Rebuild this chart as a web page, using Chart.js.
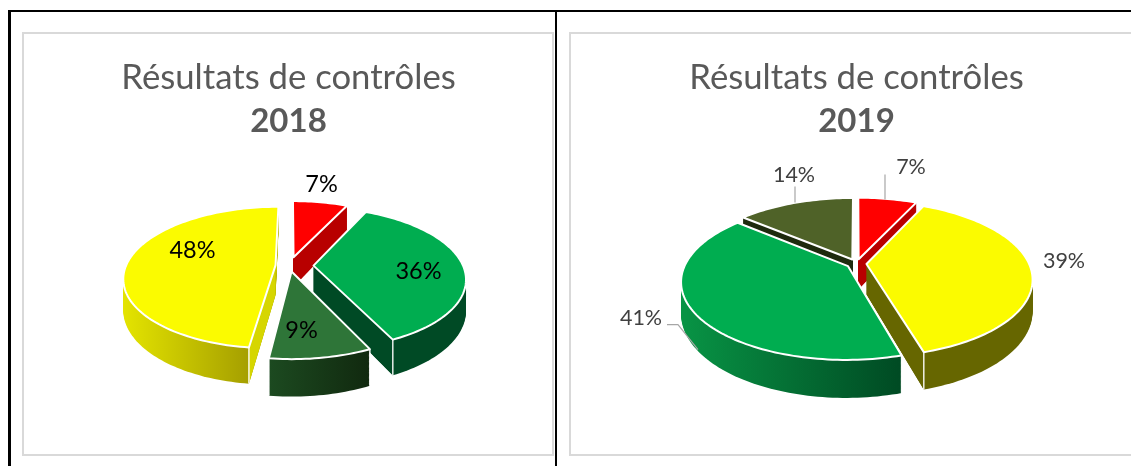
<!DOCTYPE html>
<html>
<head>
<meta charset="utf-8">
<script src="https://cdn.jsdelivr.net/npm/chart.js@4"></script>
<style>
    html, body { margin: 0; padding: 0; background: #fff; overflow: hidden; }
    body { width: 1131px; height: 466px; position: relative; }
    .rule { position: absolute; background: #000; }
    .box { position: absolute; border: 2px solid #d9d9d9; box-sizing: border-box; }
    canvas { position: absolute; }
</style>
</head>
<body>
<div class="rule" style="left:8px;top:10px;width:1123px;height:2px"></div>
<div class="rule" style="left:8px;top:10px;width:3px;height:456px"></div>
<div class="rule" style="left:555px;top:10px;width:2px;height:456px"></div>
<div class="box" style="left:22px;top:32px;width:532px;height:424px"></div>
<div class="box" style="left:569px;top:32px;width:580px;height:424px"></div>
<canvas id="chart2018" width="529" height="421" style="left:24px;top:34px"></canvas>
<canvas id="chart2019" width="571" height="421" style="left:571px;top:34px"></canvas>

<script>
const chartTitle = 'Résultats de contrôles';

const categories2018 = ['Rouge', 'Vert', 'Vert foncé', 'Jaune'];
const values2018 = [7, 36, 9, 48];
const colors2018 = ['#ff0000', '#00ad50', '#2e7538', '#fbfb00'];

const categories2019 = ['Rouge', 'Jaune', 'Vert', 'Vert foncé'];
const values2019 = [7, 39, 41, 14];
const colors2019 = ['#ff0000', '#fbfb00', '#00ad50', '#4f6228'];

// side wall colours: left and right end of the gradient, then the flat cut face
const walls2018 = [
    ['#b80000', '#b80000', '#b80000'],
    ['#004a25', '#004a25', '#004a25'],
    ['#1c4a20', '#11290f', '#1c4a20'],
    ['#e4e400', '#a59f00', '#d6d600']
];
const walls2019 = [
    ['#b80000', '#b80000', '#b80000'],
    ['#666600', '#666600', '#666600'],
    ['#089445', '#004a23', '#004a23'],
    ['#1e2a0e', '#1e2a0e', '#1e2a0e']
];

// draws the arcs of the chart tilted, with a wall under each one
const pie3d = {
    id: 'pie3d',
    beforeDatasetsDraw(chart, args, opts) {
        const ctx = chart.ctx;
        const arcs = chart.getDatasetMeta(0).data;
        const values = chart.data.datasets[0].data;

        const project = (cx, cy, x, y, h) => {
            const f = opts.perspective / (opts.perspective - y);
            return { x: cx + x * f, y: cy + y * opts.squash * f + h * f };
        };

        const slices = arcs.map((arc, i) => {
            const p = arc.getProps(['x', 'y', 'startAngle', 'endAngle', 'outerRadius']);
            const mid = (p.startAngle + p.endAngle) / 2;
            const ox = Math.cos(mid) * arc.options.offset;
            const oy = Math.sin(mid) * arc.options.offset;
            const rim = [];
            const steps = Math.ceil((p.endAngle - p.startAngle) * 40);
            for (let s = 0; s <= steps; s++) {
                const a = p.startAngle + (p.endAngle - p.startAngle) * s / steps;
                rim.push([ox + Math.cos(a) * p.outerRadius, oy + Math.sin(a) * p.outerRadius]);
            }
            return {
                i,
                cx: p.x + opts.shiftX + opts.nudge[i][0],
                cy: p.y + opts.nudge[i][1],
                rim,
                apex: [ox, oy],
                sortY: oy + Math.sin(mid) * p.outerRadius * 0.6
            };
        });
        slices.sort((a, b) => a.sortY - b.sortY);

        const trace = (s, h) => {
            ctx.beginPath();
            const a = project(s.cx, s.cy, s.apex[0], s.apex[1], h);
            ctx.moveTo(a.x, a.y);
            s.rim.forEach((r) => {
                const q = project(s.cx, s.cy, r[0], r[1], h);
                ctx.lineTo(q.x, q.y);
            });
            ctx.closePath();
        };

        slices.forEach((s) => {
            const wall = opts.walls[s.i];
            const front = s.rim.filter((r) => r[1] >= 0).map((r) => project(s.cx, s.cy, r[0], r[1], 0).x);
            const x0 = front.length ? Math.min(...front) : 0;
            const x1 = front.length ? Math.max(...front) : 1;
            const grad = ctx.createLinearGradient(x0, 0, Math.max(x1, x0 + 1), 0);
            grad.addColorStop(0, wall[0]);
            grad.addColorStop(1, wall[1]);

            ctx.fillStyle = grad;
            for (let h = opts.depth; h > 0; h--) {
                trace(s, h);
                ctx.fill();
            }

            // the two cut faces, only where they turn towards the viewer
            const midRim = s.rim[Math.floor(s.rim.length / 2)];
            const inner = project(s.cx, s.cy, (s.apex[0] + midRim[0]) / 2, (s.apex[1] + midRim[1]) / 2, 0);
            [s.rim[0], s.rim[s.rim.length - 1]].forEach((end) => {
                const a = project(s.cx, s.cy, s.apex[0], s.apex[1], 0);
                const t = project(s.cx, s.cy, end[0], end[1], 0);
                if (Math.abs(t.x - a.x) < 1) return;
                const lineY = a.y + (t.y - a.y) * (inner.x - a.x) / (t.x - a.x);
                if (inner.y >= lineY) return;
                const a2 = project(s.cx, s.cy, s.apex[0], s.apex[1], opts.depth);
                const t2 = project(s.cx, s.cy, end[0], end[1], opts.depth);
                ctx.fillStyle = wall[2];
                ctx.beginPath();
                ctx.moveTo(a.x, a.y);
                ctx.lineTo(t.x, t.y);
                ctx.lineTo(t2.x, t2.y);
                ctx.lineTo(a2.x, a2.y);
                ctx.closePath();
                ctx.fill();
            });

            // white corner where the rim meets a cut face at the front
            ctx.strokeStyle = 'rgba(255,255,255,0.9)';
            ctx.lineWidth = 1.5;
            [s.rim[0], s.rim[s.rim.length - 1]].forEach((end) => {
                if (end[1] <= 0) return;
                const t = project(s.cx, s.cy, end[0], end[1], 0);
                const t2 = project(s.cx, s.cy, end[0], end[1], opts.depth);
                ctx.beginPath();
                ctx.moveTo(t.x, t.y);
                ctx.lineTo(t2.x, t2.y);
                ctx.stroke();
            });

            trace(s, 0);
            ctx.fillStyle = arcs[s.i].options.backgroundColor;
            ctx.fill();
            ctx.strokeStyle = '#fff';
            ctx.lineWidth = 2;
            ctx.lineJoin = 'round';
            ctx.stroke();
        });

        // leader lines, relative to the pie centre
        const cx = arcs[0].x + opts.shiftX;
        const cy = arcs[0].y;
        ctx.strokeStyle = '#a6a6a6';
        ctx.lineWidth = 1.2;
        opts.leaders.forEach((line) => {
            ctx.beginPath();
            line.forEach((pt, n) => {
                if (n === 0) ctx.moveTo(cx + pt[0], cy + pt[1]);
                else ctx.lineTo(cx + pt[0], cy + pt[1]);
            });
            ctx.stroke();
        });

        ctx.font = opts.labelFont;
        ctx.fillStyle = opts.labelColor;
        ctx.textAlign = 'center';
        ctx.textBaseline = 'middle';
        values.forEach((v, i) => {
            ctx.fillText(v + '%', cx + opts.labelAt[i][0], cy + opts.labelAt[i][1]);
        });

        return false;
    }
};

function makeChart(id, year, labels, values, colors, walls, extra) {
    const ctx = document.getElementById(id).getContext('2d');
    return new Chart(ctx, {
        type: 'pie',
        data: {
            labels: labels,
            datasets: [{
                data: values,
                backgroundColor: colors,
                borderWidth: 0,
                offset: extra.offset
            }]
        },
        options: {
            responsive: false,
            animation: false,
            radius: extra.radius,
            layout: { padding: { left: 0, right: 0, top: 0, bottom: extra.bottom } },
            plugins: {
                legend: { display: false },
                tooltip: { enabled: false },
                title: {
                    display: true,
                    text: chartTitle,
                    color: '#595959',
                    font: { family: 'Lato', size: 34.7, weight: 'normal' },
                    padding: { top: 23, bottom: 3 }
                },
                subtitle: {
                    display: true,
                    text: year,
                    color: '#595959',
                    font: { family: 'Lato', size: 33, weight: 'bold' },
                    padding: { top: 0, bottom: 0 }
                },
                pie3d: {
                    walls: walls,
                    squash: extra.squash,
                    shiftX: extra.shiftX,
                    nudge: extra.nudge,
                    perspective: extra.perspective,
                    depth: extra.depth,
                    labelFont: extra.labelFont,
                    labelColor: extra.labelColor,
                    labelAt: extra.labelAt,
                    leaders: extra.leaders
                }
            }
        },
        plugins: [pie3d]
    });
}

makeChart('chart2018', '2018', categories2018, values2018, colors2018, walls2018, {
    offset: 19,
    radius: 149.5,
    bottom: 65,
    squash: 0.46,
    shiftX: 6,
    nudge: [[-5, 0], [0, 0], [-6, -3], [0, 0]],
    perspective: 850,
    depth: 30,
    labelFont: '23.5px Lato',
    labelColor: '#000',
    labelAt: [[27, -81], [124, 6], [7, 65], [-102, -15]],
    leaders: []
});

makeChart('chart2019', '2019', categories2019, values2019, colors2019, walls2019, {
    offset: 10,
    radius: 162.5,
    bottom: 69,
    squash: 0.46,
    shiftX: 0,
    nudge: [[0, 0], [0, 0], [0, 0], [0, 0]],
    perspective: 850,
    depth: 30.5,
    labelFont: '21.5px Lato',
    labelColor: '#404040',
    labelAt: [[54.5, -97], [207.5, -3], [-215.5, 54], [-62.5, -89]],
    leaders: [
        [[28.5, -89], [28.5, -64]],
        [[-61.5, -77], [-61.5, -61]],
        [[-189.5, 61], [-178.5, 61], [-158.5, 86]]
    ]
});
</script>
</body>
</html>
